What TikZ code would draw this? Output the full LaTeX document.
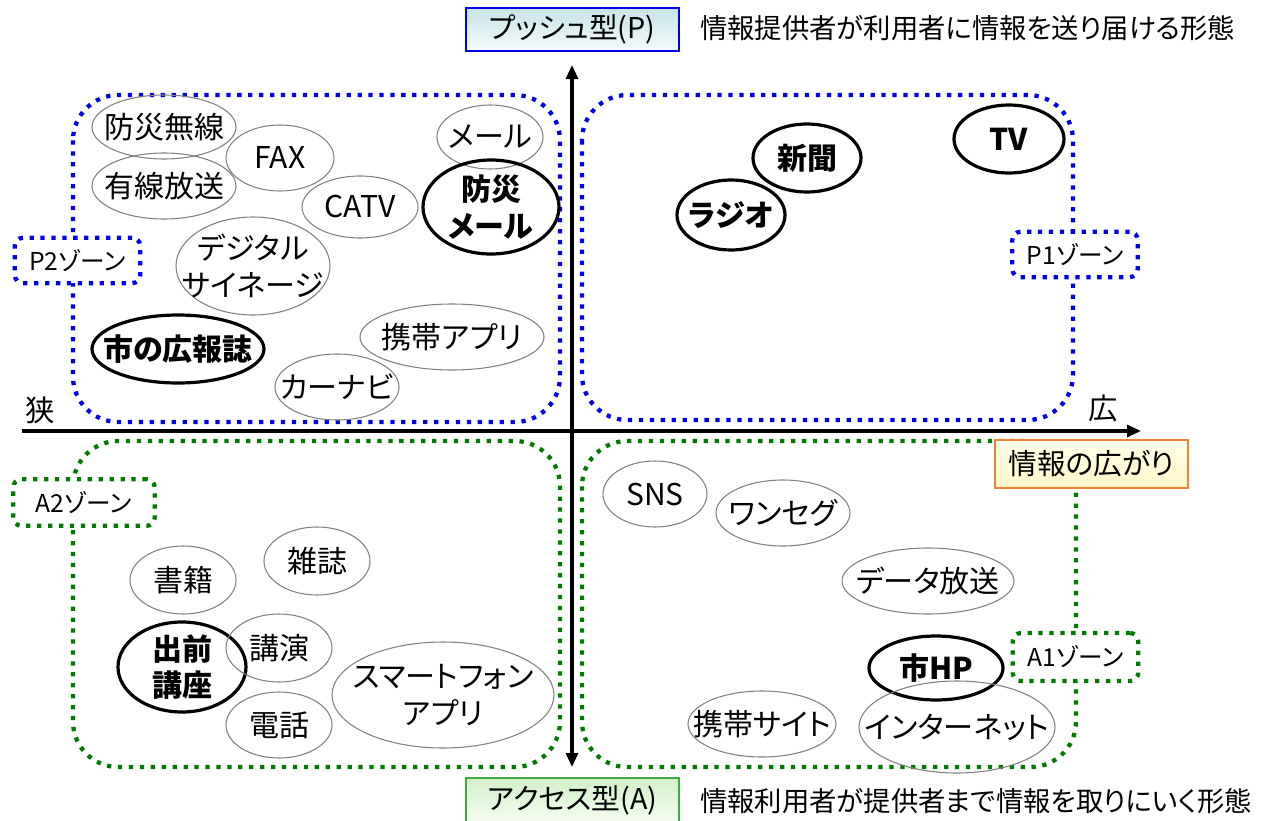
\documentclass[tikz,border=0pt]{standalone}
\usepackage{fontspec}
\setmainfont{Noto Sans CJK JP}[RawFeature=+palt]
\usetikzlibrary{shapes.geometric,arrows.meta}
\definecolor{zb}{RGB}{0,0,235}
\definecolor{zg}{RGB}{0,122,0}
\definecolor{ellgray}{RGB}{128,128,128}
\newcommand\ov[7]{\node[#5,minimum width=#3*1.5pt,minimum height=#4*1.5pt,label={[#6]center:{#7}}] (#1) at (#2) {};}
\begin{document}
\begin{tikzpicture}[x=0.75pt,y=-0.75pt,
  ell/.style={ellipse, draw=ellgray, line width=0.8pt, inner sep=0pt},
  bell/.style={ellipse, draw=black, line width=2.4pt, inner sep=0pt},
  txt/.style={font=\fontsize{22.5}{27.5}\selectfont, align=center, inner sep=0pt},
  btxt/.style={font=\fontsize{22.5}{27.5}\selectfont\bfseries, align=center, inner sep=0pt},
  zoneb/.style={draw=zb, line width=3.2pt, dash pattern=on 3.2pt off 5pt, rounded corners=34pt},
  zoneg/.style={draw=zg, line width=3.2pt, dash pattern=on 3.2pt off 5pt, rounded corners=34pt},
  zlab/.style={fill=white, line width=3.2pt, dash pattern=on 3.2pt off 5pt, rounded corners=6pt, inner sep=0pt, font=\fontsize{18.5}{22}\selectfont},
  axis/.style={line width=2.3pt, -{Triangle[length=10.5pt,width=9pt]}},
  desc/.style={anchor=west, inner sep=0pt, font=\fontsize{20.5}{24}\selectfont},
  side/.style={inner sep=0pt, font=\fontsize{22}{24}\selectfont}]
\useasboundingbox (0,0) rectangle (1271,821);

% quadrant boxes
\draw[zoneb] (73,95) rectangle (560,422);
\draw[zoneb] (582,95) rectangle (1073,420);
\draw[zoneg] (73,441) rectangle (560,767);
\draw[zoneg] (582,441) rectangle (1076,767);

% axes
\coordinate (hl) at (22,431);
\coordinate (hr) at (1141,431);
\coordinate (vc) at (572,431);
\coordinate (vt) at (572,65);
\coordinate (vb) at (572,767);
\draw[axis] (hl) -- (hr);
\draw[axis] (vc) -- (vt);
\draw[axis] (vc) -- (vb);

% zone labels
\node[zlab, draw=zb, minimum width=94pt, minimum height=34pt] (p2) at (77.5,260.5) {P2ゾーン};
\node[zlab, draw=zb, minimum width=94pt, minimum height=34pt] (p1) at (1075,254.5) {P1ゾーン};
\node[zlab, draw=zg, minimum width=106pt, minimum height=35pt] (a2) at (84,502.5) {A2ゾーン};
\node[zlab, draw=zg, minimum width=94pt, minimum height=36pt] (a1) at (1075.5,657) {A1ゾーン};

% top-left quadrant
\ov{bmu}{164,127}{72}{32}{ell}{txt}{防災無線}
\ov{yus}{164,186}{72}{33}{ell}{txt}{有線放送}
\ov{fax}{280,158}{54}{33}{ell}{txt}{FAX}
\ov{catv}{360,207}{58}{31}{ell}{txt}{CATV}
\ov{mail}{490,137}{53}{32}{ell}{txt}{メール}
\ov{bmail}{491,207}{68}{47}{bell}{btxt}{防災\\メール}
\ov{dsig}{253,266}{77}{49}{ell}{txt}{デジタル\\サイネージ}
\ov{koho}{178,349}{86}{34}{bell}{btxt}{市の広報誌}
\ov{app}{452,337}{92}{33}{ell}{txt}{携帯アプリ}
\ov{navi}{337,387}{62}{33}{ell}{txt}{カーナビ}

% top-right quadrant
\ov{news}{807,158}{54}{34}{bell}{btxt}{新聞}
\ov{radio}{731,215}{54}{35}{bell}{btxt}{ラジオ}
\ov{tv}{1009,139}{55}{34}{bell}{btxt}{TV}

% bottom-left quadrant
\ov{book}{183,580}{53}{34}{ell}{txt}{書籍}
\ov{mag}{317,561}{53}{34}{ell}{txt}{雑誌}
\ov{demae}{182,667}{64}{45}{bell}{btxt}{出前\\講座}
\ov{lect}{279,648}{53}{34}{ell}{txt}{講演}
\ov{tel}{279,725}{53}{33}{ell}{txt}{電話}
\ov{sapp}{443,695}{111}{53}{ell}{txt}{スマートフォン\\アプリ}

% bottom-right quadrant
\ov{sns}{655,494}{52}{33}{ell}{txt}{SNS}
\ov{oneseg}{783,513}{67}{33}{ell}{txt}{ワンセグ}
\ov{data}{928,581}{86}{33}{ell}{txt}{データ放送}
\ov{hp}{936,668}{67}{32}{bell}{btxt}{市HP}
\ov{ksite}{762,724}{74}{33}{ell}{txt}{携帯サイト}
\ov{inet}{957,727}{98}{46}{ell}{txt}{インターネット}

% axis texts
\node[side] (narrow) at (40,410) {狭};
\node[side] (wide) at (1103,408) {広};
\node[draw={rgb,255:red,240;green,130;blue,50}, line width=1.1pt, top color={rgb,255:red,255;green,255;blue,232}, bottom color={rgb,255:red,255;green,246;blue,200}, minimum width=145pt, minimum height=36pt, inner sep=0pt, font=\fontsize{21.5}{24}\selectfont] (spread) at (1091.5,464) {情報の広がり};

% type boxes
\node[draw=zb, line width=1.1pt, top color={rgb,255:red,200;green,228;blue,232}, bottom color={rgb,255:red,244;green,250;blue,250}, minimum width=160pt, minimum height=32pt, inner sep=0pt, font=\fontsize{21.5}{24}\selectfont] (push) at (572.5,29.5) {プッシュ型(P)};
\node[draw={rgb,255:red,60;green,170;blue,60}, line width=1.1pt, top color={rgb,255:red,210;green,240;blue,200}, bottom color={rgb,255:red,244;green,252;blue,240}, minimum width=160pt, minimum height=33pt, inner sep=0pt, font=\fontsize{21.5}{24}\selectfont] (access) at (572.5,800) {アクセス型(A)};
\node[desc] (pushd) at (700,28) {情報提供者が利用者に情報を送り届ける形態};
\node[desc] (accd) at (700,801) {情報利用者が提供者まで情報を取りにいく形態};
\end{tikzpicture}
\end{document}
